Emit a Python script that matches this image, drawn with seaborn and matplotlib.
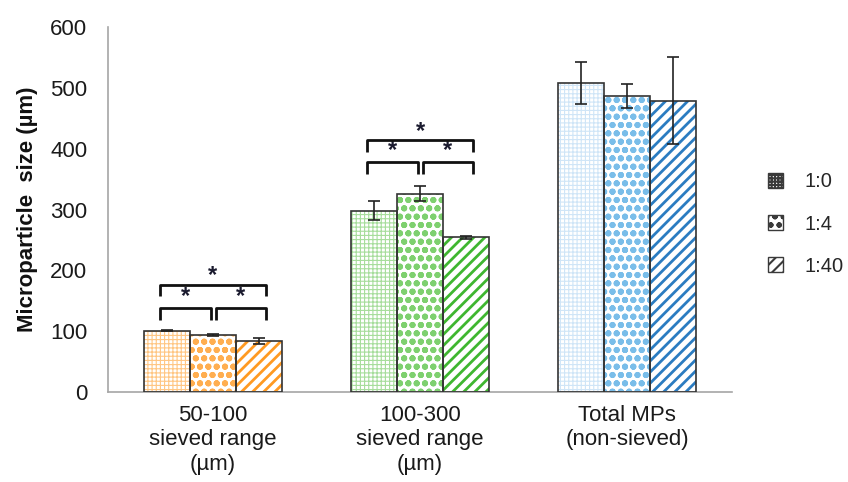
import numpy as np
import pandas as pd
import seaborn as sns
import matplotlib.pyplot as plt
from matplotlib.patches import Patch, Rectangle


groups = ["50-100\nsieved range\n(µm)", "100-300\nsieved range\n(µm)", "Total MPs\n(non-sieved)"]
ratios = ["1:0", "1:4", "1:40"]

size_0 = [101, 298, 508]
size_4 = [94, 326, 487]
size_40 = [84, 254, 479]
err_0 = [1.5, 16, 34]
err_4 = [1.5, 12, 20]
err_40 = [5, 3, 72]

# significance brackets, only for the two sieved groups
sig_groups = [0, 1]
bracket_low = [138, 378]
bracket_high = [176, 414]

# one colour per group (rows) and ratio (columns)
group_colors = [
    ["#ffc683", "#ffae50", "#ff9a22"],
    ["#a6dd9b", "#7ed06f", "#3fb630"],
    ["#cfe5f7", "#79bde9", "#2b7cc1"],
]
hatches = ["++++", "oo..", "///"]
hatch_lw = [0.8, 2.0, 2.0]
legend_hatches = ["+++++", "oo..", "///"]

df = pd.DataFrame({
    "group": groups * 3,
    "ratio": np.repeat(ratios, 3),
    "size": size_0 + size_4 + size_40,
})
errs = [err_0, err_4, err_40]

sns.set_style("white")
plt.rcParams["font.family"] = ["Liberation Sans", "DejaVu Sans"]
plt.rcParams["hatch.linewidth"] = 1.5

fig = plt.figure(figsize=(8.48, 4.82), dpi=100)
ax = fig.add_axes([0.1274, 0.1867, 0.7358, 0.7573])

sns.barplot(data=df, x="group", y="size", hue="ratio", order=groups,
            hue_order=ratios, width=0.67, errorbar=None,
            palette={r: "white" for r in ratios}, legend=False, ax=ax)

bar_containers = list(ax.containers)
for j, bars in enumerate(bar_containers):
    for bar in bars:
        cx = bar.get_x() + bar.get_width() / 2
        i = int(round(cx))
        bar.set_facecolor("white")
        bar.set_edgecolor(group_colors[i][j])
        bar.set_linewidth(0)
        bar.set_hatch(hatches[j])
        if hasattr(bar, "set_hatch_linewidth"):
            bar.set_hatch_linewidth(hatch_lw[j])
        ax.add_patch(Rectangle((bar.get_x(), 0), bar.get_width(), bar.get_height(),
                               fill=False, edgecolor="#333333", lw=1.2, zorder=3))
        ax.errorbar(cx, bar.get_height(), yerr=errs[j][i], color="#222222",
                    capsize=4, elinewidth=1.2, capthick=1.2, zorder=4)

# brackets + stars
drop = 19
for k, g in enumerate(sig_groups):
    lo, hi = bracket_low[k], bracket_high[k]
    xl, xm1, xm2, xr = g - 0.255, g - 0.01, g + 0.015, g + 0.255
    kw = dict(color="#111111", lw=2, solid_capstyle="butt", zorder=5)
    ax.plot([xl, xl, xm1, xm1], [lo - drop, lo, lo, lo - drop], **kw)
    ax.plot([xm2, xm2, xr, xr], [lo - drop, lo, lo, lo - drop], **kw)
    ax.plot([xl, xl, xr, xr], [hi - drop, hi, hi, hi - drop], **kw)
    star = dict(ha="center", va="center", fontsize=17, fontweight="bold", color="#1b1b2f")
    ax.text((xl + xm1) / 2, lo + 19, "*", **star)
    ax.text((xm2 + xr) / 2, lo + 19, "*", **star)
    ax.text((xl + xr) / 2, hi + 15, "*", **star)

ax.set_xlim(-0.507, 2.507)
ax.set_ylim(0, 600)
ax.set_yticks(range(0, 601, 100))
ax.set_xlabel("")
ax.set_ylabel("Microparticle  size (µm)", fontsize=16, fontweight="bold", color="#111111")
ax.yaxis.set_label_coords(-0.112, 0.5)

for s in ["top", "right"]:
    ax.spines[s].set_visible(False)
for s in ["left", "bottom"]:
    ax.spines[s].set_color("#a6a6a6")
    ax.spines[s].set_linewidth(1.2)
ax.tick_params(axis="y", direction="out", length=6, width=1.2, color="#a6a6a6",
               labelsize=16, labelcolor="#1a1a1a", pad=9)
ax.tick_params(axis="x", length=0, labelsize=16, labelcolor="#1a1a1a", pad=9)
for t in ax.get_xticklabels():
    t.set_linespacing(1.22)

handles = [Patch(facecolor="white", edgecolor="#3a3a3a", hatch=h, lw=1) for h in legend_hatches]
fig.legend(handles, ratios, loc="center left", bbox_to_anchor=(0.906, 1 - 224 / 482),
           frameon=False, fontsize=14.5, handlelength=0.75, handleheight=0.75,
           labelspacing=1.15, handletextpad=1.05, borderpad=0, borderaxespad=0)

fig.savefig("out.png", dpi=100)
